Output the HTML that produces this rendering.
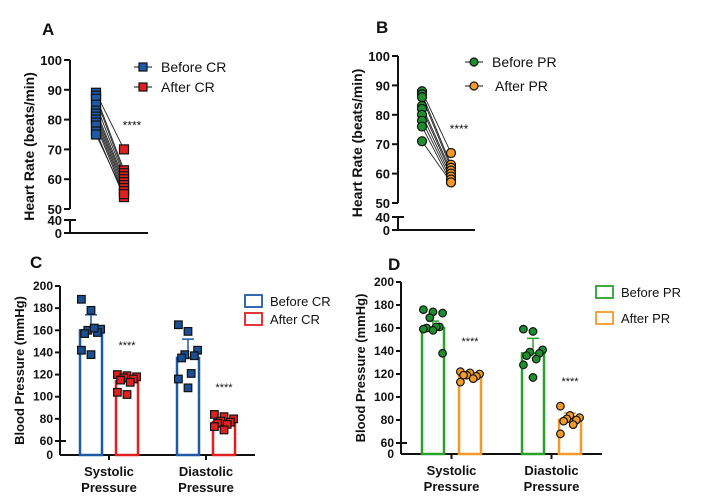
<!DOCTYPE html>
<html><head><meta charset="utf-8"><style>
body{margin:0;background:#fff;}
svg{display:block;font-family:"Liberation Sans",Arial,sans-serif;}
</style></head><body>
<svg id="s" width="710" height="500" viewBox="0 0 710 500"></svg>
<script>
// Panel A: heart rate before/after CR
const aBefore=[89,88,87,85,83,82,81,80,79,78,76,75];
const aAfter=[70,63,62,61,60,59,58,57,56,55,54,55];
// Panel B: heart rate before/after PR
const bBefore=[88,87,86,83,82,80,78,76,71];
const bAfter=[67,63,62,61,60,59,58,57,57];
// Panel C: blood pressure CR
const cCategories=["Systolic","Diastolic"];
const cBeforeMean=[160,135];
const cBeforeErr=[174,152];
const cAfterMean=[114,77];
const cAfterErr=[118,80];
const cSysBefore=[188,178,161,160,158,157,162,142,138];
const cSysAfter=[120,119,118,117,116,115,113,104,102];
const cDiaBefore=[165,159,142,138,137,135,121,116,108];
const cDiaAfter=[84,82,80,78,77,76,75,73,70];
// Panel D: blood pressure PR
const dBeforeMean=[160,138];
const dBeforeErr=[166,151];
const dAfterMean=[118,80];
const dAfterErr=[121,86];
const dSysBefore=[176,174,173,169,161,160,161,159,158,138];
const dSysAfter=[122,121,120,119,118,119,116,113];
const dDiaBefore=[159,157,141,139,138,136,133,128,117];
const dDiaAfter=[92,84,82,81,80,79,76,68];
const hrTicks=[100,90,80,70,60,50];
const bpTicks=[200,180,160,140,120,100,80,60];

const S=document.getElementById('s');
const NS='http://www.w3.org/2000/svg';
function el(tag,attrs,name,txt){const e=document.createElementNS(NS,tag);for(const k in attrs)e.setAttribute(k,attrs[k]);


if(txt!==undefined)e.textContent=txt;S.appendChild(e);return e;}
function line(x1,y1,x2,y2,c,w,n){return el('line',{x1,y1,x2,y2,stroke:c,'stroke-width':w},n);}
function text(x,y,t,sz,anchor,n,weight){return el('text',{x,y,'font-size':sz,'text-anchor':anchor,'font-weight':weight||'bold',fill:'#111'},n,t);}
function marker(shape,x,y,fill,n,r){r=r||4.5;
  if(shape==='sq')return el('rect',{x:x-r,y:y-r,width:2*r,height:2*r,fill:fill,stroke:'#111','stroke-width':1.2},n);
  return el('circle',{cx:x,cy:y,r:r,fill:fill,stroke:'#111','stroke-width':1.2},n);}

function hrPanel(o){
  const y=v=>o.y50+(50-v)*(o.y50-o.y100)/50;
  line(o.ax,o.y100,o.ax,o.y50,'#111',2,'y-axis-upper');
  line(o.ax,o.y40,o.ax,o.y0,'#111',2,'y-axis-lower');
  line(o.ax,o.y0,o.xend,o.y0,'#111',2,'x-axis');
  hrTicks.forEach(t=>{const yy=y(t);line(o.ax-6,yy,o.ax,yy,'#111',2,'y-tick');text(o.ax-8,yy+5,t,13,'end','y-tick-label');});
  line(o.ax-6,o.y40,o.ax+6,o.y40,'#111',2,'y-tick');text(o.ax-8,o.y40+5,'40',13,'end','y-tick-label');
  line(o.ax-6,o.y0,o.ax,o.y0,'#111',2,'y-tick');text(o.ax-8,o.y0+5,'0',13,'end','y-tick-label');
  el('text',{x:0,y:0,'font-size':14,'font-weight':'bold','text-anchor':'middle',fill:'#111',transform:`translate(${o.ax-36},${(o.y100+o.y0)/2}) rotate(-90)`},'y-axis-title','Heart Rate (beats/min)');
  o.before.forEach((v,i)=>line(o.xb,y(v),o.xa,y(o.after[i]),'#222',0.9,'pair-line'));
  o.before.forEach(v=>marker(o.shape,o.xb,y(v),o.cb,'before-point',4.5));
  o.after.forEach(v=>marker(o.shape,o.xa,y(v),o.ca,'after-point',4.5));
  text(o.xa+8,y(Math.max(...o.after))-20,'****',12,'middle','significance-stars','normal');
  text(o.px,o.py,o.label,17,'start','panel-label');
  [[o.cb,o.lb1,0],[o.ca,o.lb2,1]].forEach(([c,l,i])=>{const yy=o.ly+i*o.lgap;
    line(o.lx,yy,o.lx+18,yy,'#111',1,'legend-line');marker(o.shape,o.lx+9,yy,c,'legend-marker',4);
    text(o.lx+(i?o.tx2:o.tx1),yy+5,l,14,'start','legend-entry','normal');});
}
hrPanel({ax:70,y100:60,y50:209,y40:220,y0:233,xend:148,xb:96,xa:124,before:aBefore,after:aAfter,shape:'sq',cb:'#1f5aa6',ca:'#e02020',label:'A',px:42,py:35,lx:134,ly:67,lgap:20,tx1:27,tx2:27,lb1:'Before CR',lb2:'After CR'});
hrPanel({ax:398,y100:56,y50:203,y40:217,y0:230,xend:475,xb:422,xa:451,before:bBefore,after:bAfter,shape:'ci',cb:'#1e8f2e',ca:'#f39a2a',label:'B',px:376,py:33,lx:465,ly:62,lgap:24,tx1:27,tx2:30,lb1:'Before PR',lb2:'After PR'});

function bpPanel(o){
  const y=v=>v<60?o.y0-(v/60)*(o.y0-o.y60):o.y60-(v-60)*(o.y60-o.y200)/140;
  line(o.ax,o.y200,o.ax,o.y0,'#111',2,'y-axis');
  line(o.ax,o.y0,o.xend,o.y0,'#111',2,'x-axis');
  bpTicks.forEach(t=>{const yy=y(t);line(o.ax-5,yy,o.ax,yy,'#111',2,'y-tick');text(o.ax-7,yy+4,t,12,'end','y-tick-label');});
  line(o.ax-5,o.y60,o.ax+6,o.y60,'#111',2,'y-tick-break');
  text(o.ax-7,o.y0+4,'0',12,'end','y-tick-label');
  el('text',{x:0,y:0,'font-size':13,'font-weight':'bold','text-anchor':'middle',fill:'#111',transform:`translate(${o.ax-36},${(o.y200+o.y0)/2}) rotate(-90)`},'y-axis-title','Blood Pressure (mmHg)');
  cCategories.forEach((c,i)=>{
    const xb=o.xs[i],xa=o.xs[i]+o.gap;
    [[xb,o.bMean[i],o.bErr[i],o.cb,o.pts[i][0],'before'],[xa,o.aMean[i],o.aErr[i],o.ca,o.pts[i][1],'after']].forEach(([x,m,e,col,pts,nm])=>{
      el('rect',{x:x-11,y:y(m),width:22,height:o.y0-y(m),fill:'#fff',stroke:col,'stroke-width':2.5},nm+'-bar-'+c.toLowerCase());
      line(x,y(m),x,y(e),col,1.5,'error-bar');line(x-6,y(e),x+6,y(e),col,1.5,'error-cap');
      pts.forEach((v,k)=>marker(o.shape,x+((k*3)%7-3)*3.2,y(v),o.pc[nm],nm+'-point',3.8));
    });
    text(xa,y(o.aErr[i])-28,'****',11,'middle','significance-stars','normal');
    const mx=(xb+xa)/2;
    line(mx,o.y0,mx,o.y0+5,'#111',2,'x-tick');
    text(mx,o.y0+21,c,13,'middle','x-tick-label');
    text(mx,o.y0+37,'Pressure',13,'middle','x-tick-label');
  });
  text(o.px,o.py,o.label,17,'start','panel-label');
  [[o.cb,o.lb1,0],[o.ca,o.lb2,1]].forEach(([c,l,i])=>{const yy=o.ly+i*o.lgap;
    el('rect',{x:o.lx,y:yy-6,width:17,height:12,fill:'#fff',stroke:c,'stroke-width':1.8},'legend-swatch');
    text(o.lx+25,yy+5,l,13,'start','legend-entry','normal');});
}
bpPanel({ax:60,y200:286,y60:441,y0:455,xend:255,xs:[91,188],gap:36,bMean:cBeforeMean,bErr:cBeforeErr,aMean:cAfterMean,aErr:cAfterErr,
 pts:[[cSysBefore,cSysAfter],[cDiaBefore,cDiaAfter]],shape:'sq',cb:'#1f5aa6',ca:'#e02020',pc:{before:'#1a4f94',after:'#e02020'},label:'C',px:30,py:268,lx:245,ly:301,lgap:18,lb1:'Before CR',lb2:'After CR'});
bpPanel({ax:401,y200:282,y60:443,y0:454,xend:602,xs:[433,533],gap:37,bMean:dBeforeMean,bErr:dBeforeErr,aMean:dAfterMean,aErr:dAfterErr,
 pts:[[dSysBefore,dSysAfter],[dDiaBefore,dDiaAfter]],shape:'ci',cb:'#2aa12a',ca:'#f39a2a',pc:{before:'#1e8f2e',after:'#f39a2a'},label:'D',px:388,py:270,lx:596,ly:292,lgap:26,lb1:'Before PR',lb2:'After PR'});
</script>
</body></html>
